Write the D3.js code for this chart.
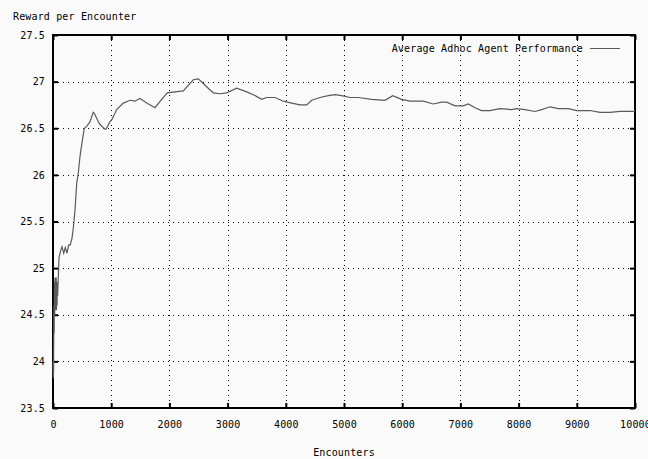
<!DOCTYPE html>
<html><head><meta charset="utf-8">
<script src="https://cdn.jsdelivr.net/npm/d3@7"></script>
<style>
html,body{margin:0;padding:0;background:#fafafa;}
text{font-family:"DejaVu Sans Mono","Liberation Mono",monospace;font-size:10px;letter-spacing:0.15px;fill:#000;}
</style></head>
<body><svg id="c" width="648" height="459"></svg>
<script>
const encounters = [0,5,10,15,20,25,30,35,40,45,50,55,60,65,70,75,80,86,103,132,155,184,211,240,270,297,326,349,378,407,435,464,504,538,578,636,692,710,779,808,893,911,979,1008,1065,1094,1208,1323,1409,1495,1610,1753,1867,1964,2096,2239,2411,2497,2583,2698,2755,2869,2984,3156,3328,3442,3586,3672,3814,3957,4101,4244,4359,4445,4588,4731,4845,4960,5103,5246,5475,5704,5837,5991,6134,6363,6535,6678,6764,6907,7050,7136,7251,7365,7508,7680,7881,7966,8110,8282,8397,8540,8683,8854,8998,9227,9399,9570,9742,9943,10000];
const reward = [24.0,23.82,23.9,24.6,24.3,24.85,24.5,24.9,24.55,24.85,24.6,24.9,24.55,24.8,24.6,24.85,24.7,24.82,25.11,25.19,25.23,25.16,25.22,25.16,25.25,25.25,25.32,25.43,25.62,25.91,26.02,26.2,26.37,26.5,26.52,26.57,26.67,26.66,26.57,26.54,26.49,26.49,26.57,26.59,26.66,26.7,26.77,26.8,26.79,26.82,26.77,26.72,26.81,26.88,26.89,26.9,27.02,27.03,26.98,26.91,26.88,26.87,26.88,26.93,26.89,26.86,26.81,26.83,26.83,26.79,26.77,26.75,26.75,26.8,26.83,26.85,26.86,26.85,26.83,26.83,26.81,26.8,26.85,26.81,26.79,26.79,26.76,26.78,26.78,26.74,26.74,26.76,26.72,26.69,26.69,26.71,26.7,26.71,26.7,26.68,26.7,26.73,26.71,26.71,26.69,26.69,26.67,26.67,26.68,26.68,26.68];
const xTicks = [0,1000,2000,3000,4000,5000,6000,7000,8000,9000,10000];
const yTicks = [23.5,24,24.5,25,25.5,26,26.5,27,27.5];
const seriesName = "Average Adhoc Agent Performance";
const xTitle = "Encounters";
const yTitle = "Reward per Encounter";

const L=53, R=635, T=35, B=408;
const x = d3.scaleLinear().domain([0,10000]).range([L,R]);
const y = d3.scaleLinear().domain([23.5,27.5]).range([B,T]);
const svg = d3.select("#c");

// grid
const grid = svg.append("g").attr("stroke","#000").attr("stroke-width",1).attr("stroke-dasharray","1,4");
grid.selectAll(".gx").data(xTicks.slice(1,-1)).enter().append("line")
  .attr("x1",d=>Math.round(x(d))+0.5).attr("x2",d=>Math.round(x(d))+0.5).attr("y1",T).attr("y2",B);
grid.selectAll(".gy").data(yTicks.slice(1,-1)).enter().append("line")
  .attr("y1",d=>Math.round(y(d))+0.5).attr("y2",d=>Math.round(y(d))+0.5).attr("x1",L).attr("x2",R);

// axes with inward ticks on all sides
const fmt = d=>String(d);
svg.append("g").attr("transform",`translate(0,${B})`)
  .call(d3.axisBottom(x).tickValues(xTicks).tickFormat(fmt).tickSizeInner(-5).tickSizeOuter(0).tickPadding(13))
  .call(g=>{g.select(".domain").remove(); g.selectAll("line").attr("stroke-width",2); g.selectAll("text").attr("font-family",null).attr("font-size",null);});
svg.append("g").attr("transform",`translate(0,${T})`)
  .call(d3.axisTop(x).tickValues(xTicks).tickFormat("").tickSizeInner(-5).tickSizeOuter(0))
  .call(g=>{g.select(".domain").remove(); g.selectAll("line").attr("stroke-width",2);});
svg.append("g").attr("transform",`translate(${L},0)`)
  .call(d3.axisLeft(y).tickValues(yTicks).tickFormat(fmt).tickSizeInner(-5).tickSizeOuter(0).tickPadding(8))
  .call(g=>{g.select(".domain").remove(); g.selectAll("line").attr("stroke-width",2); g.selectAll("text").attr("font-family",null).attr("font-size",null);});
svg.append("g").attr("transform",`translate(${R},0)`)
  .call(d3.axisRight(y).tickValues(yTicks).tickFormat("").tickSizeInner(-5).tickSizeOuter(0))
  .call(g=>{g.select(".domain").remove(); g.selectAll("line").attr("stroke-width",2);});

// frame
svg.append("rect").attr("x",L).attr("y",T).attr("width",R-L).attr("height",B-T)
  .attr("fill","none").attr("stroke","#000").attr("stroke-width",2);

// line
const data = encounters.map((e,i)=>[e,reward[i]]);
svg.append("path").datum(data)
  .attr("fill","none").attr("stroke","#5a5a5a").attr("stroke-width",1.2)
  .attr("d",d3.line().x(d=>x(d[0])).y(d=>y(d[1])));

// legend
svg.append("text").attr("x",583).attr("y",52).attr("text-anchor","end").text(seriesName);
svg.append("line").attr("x1",590).attr("x2",620).attr("y1",48.5).attr("y2",48.5).attr("stroke","#5a5a5a").attr("stroke-width",1);

// titles
svg.append("text").attr("x",13).attr("y",20).text(yTitle);
svg.append("text").attr("x",344).attr("y",456).attr("text-anchor","middle").text(xTitle);
</script></body></html>
